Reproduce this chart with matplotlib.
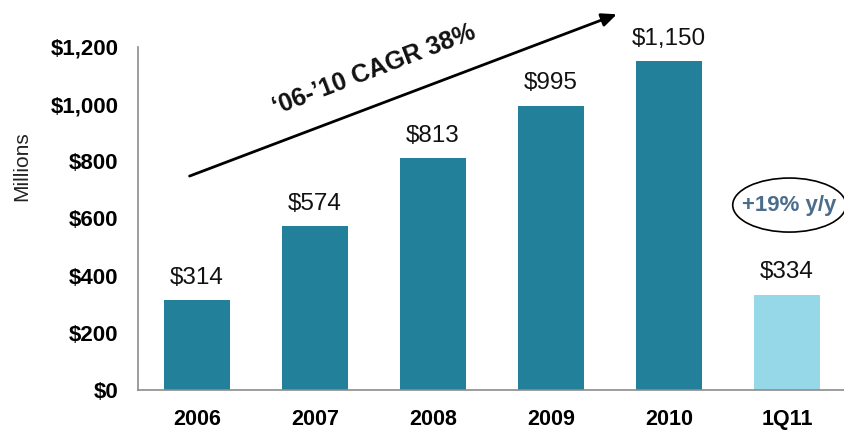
import matplotlib
matplotlib.use("Agg")
import matplotlib.pyplot as plt
from matplotlib.patches import Ellipse

plt.rcParams['font.family'] = ['Liberation Sans', 'DejaVu Sans']

categories = ["2006", "2007", "2008", "2009", "2010", "1Q11"]
values = [314, 574, 813, 995, 1150, 334]
value_labels = ["$314", "$574", "$813", "$995", "$1,150", "$334"]
colors = ["#23809A"] * 5 + ["#96D7E8"]
yticks = [0, 200, 400, 600, 800, 1000, 1200]
ytick_labels = ["$0", "$200", "$400", "$600", "$800", "$1,000", "$1,200"]

fig = plt.figure(figsize=(8.44, 4.30), dpi=100)
ax = fig.add_axes([138/844, 1 - 390/430, (846 - 138)/844, 343/430])

x = range(len(categories))
ax.bar(x, values, width=0.56, color=colors, zorder=2)
for xi, v, lab in zip(x, values, value_labels):
    ax.annotate(lab, (xi, v), xytext=(0, 8), textcoords="offset points",
                ha="center", va="bottom", fontsize=17.5, color="#111111")

ax.set_xlim(-0.5, 5.5)
ax.set_ylim(0, 1200)
ax.set_yticks(yticks)
ax.set_yticklabels(ytick_labels, fontsize=16, fontweight="bold")
ax.set_xticks(list(x))
ax.set_xticklabels(categories, fontsize=15.5, fontweight="bold")
ax.tick_params(axis='y', length=0, pad=14)
ax.tick_params(axis='x', length=0, pad=14)
for s in ["top", "right"]:
    ax.spines[s].set_visible(False)
ax.spines["left"].set_color("#8C8C8C")
ax.spines["bottom"].set_color("#8C8C8C")
ax.spines["left"].set_linewidth(1.2)
ax.spines["bottom"].set_linewidth(1.2)

fig.text(22/844, 1 - 166/430, "Millions", rotation=90, ha="center", va="center",
         fontsize=15, color="#222222")

# CAGR arrow
ax.annotate("", xy=(3.58, 1318), xytext=(-0.085, 745),
            arrowprops=dict(arrowstyle="-|>,head_length=0.9,head_width=0.4",
                            color="black", lw=2), annotation_clip=False)
ax.text(1.5, 1120, "\u201806-\u201910 CAGR 38%", rotation=21, ha="center", va="center",
        fontsize=18, fontweight="bold", color="#111111", rotation_mode="anchor")

# y/y ellipse
ax.add_patch(Ellipse((5.02, 647), width=0.96, height=189, fill=False,
                     edgecolor="black", lw=1.2, clip_on=False))
ax.text(5.02, 647, "+19% y/y", ha="center", va="center", fontsize=16,
        fontweight="bold", color="#4A6D8C")

fig.savefig("out.png", dpi=100)
